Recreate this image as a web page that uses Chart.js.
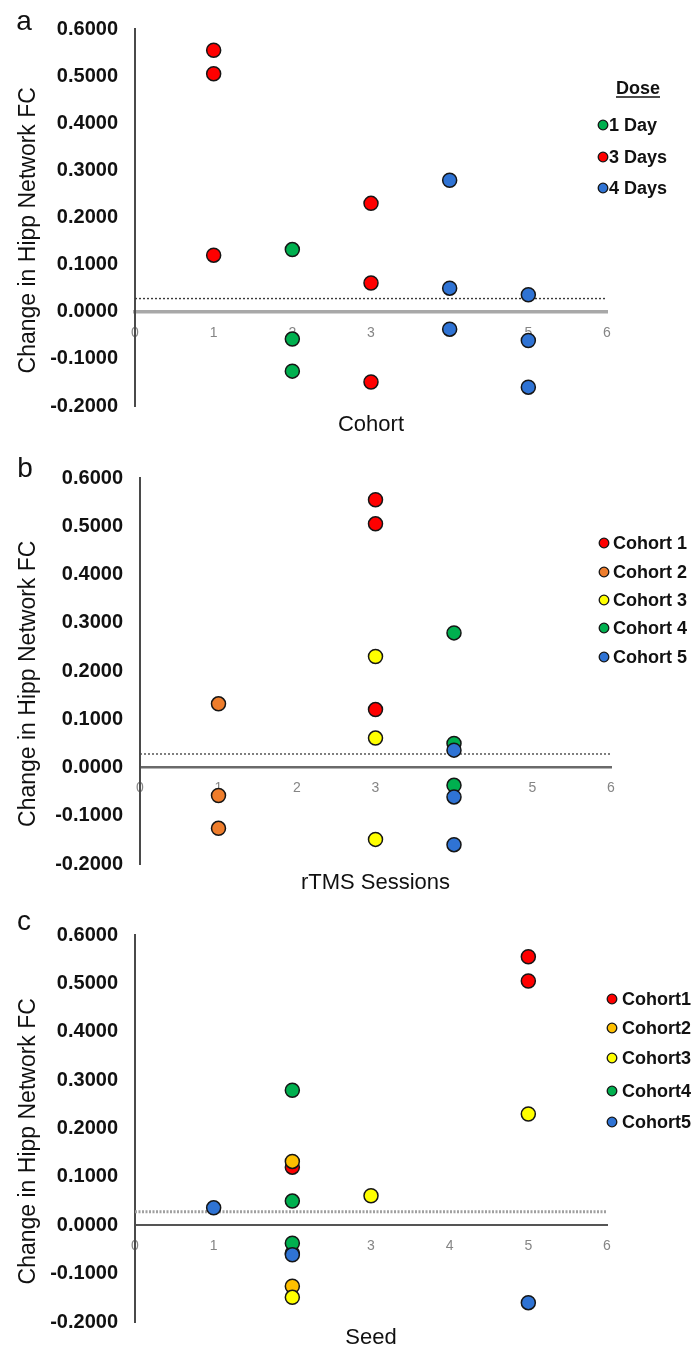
<!DOCTYPE html>
<html><head><meta charset="utf-8">
<script src="https://cdn.jsdelivr.net/npm/chart.js@4"></script>
<style>
html,body{margin:0;padding:0;background:#fff;width:696px;height:1353px;overflow:hidden;}
.p{position:absolute;left:0;width:696px;}
canvas{display:block;}
</style></head><body>
<div class="p" style="top:0px;height:440px"><canvas id="ca" width="696" height="440"></canvas></div>
<div class="p" style="top:440px;height:460px"><canvas id="cb" width="696" height="460"></canvas></div>
<div class="p" style="top:900px;height:453px"><canvas id="cc" width="696" height="453"></canvas></div>
<script>
// ---------------- data ----------------
const cohortNames = ['Cohort 1', 'Cohort 2', 'Cohort 3', 'Cohort 4', 'Cohort 5'];
const cohortNamesC = ['Cohort1', 'Cohort2', 'Cohort3', 'Cohort4', 'Cohort5'];
const cohort1 = [0.555, 0.505, 0.120];
const cohort2 = [0.132, -0.058, -0.126];
const cohort3 = [0.230, 0.061, -0.149];
const cohort4 = [0.279, 0.050, -0.037];
const cohort5 = [0.036, -0.061, -0.160];
const cohortValues = [cohort1, cohort2, cohort3, cohort4, cohort5];
const rtmsSessions = [3, 1, 3, 4, 4];            // sessions per cohort
const seed1 = [5, 5, 2];
const seed2 = [2, 2, 2];
const seed3 = [5, 3, 2];
const seed4 = [2, 2, 2];
const seed5 = [1, 2, 5];
const seeds = [seed1, seed2, seed3, seed4, seed5];
const doseLabels = ['1 Day', '3 Days', '4 Days'];
const doseCohorts = [[2], [1, 3], [4, 5]];
const threshold = 0.028;
const xTickValues = [0, 1, 2, 3, 4, 5, 6];
const yTickValues = [-0.2, -0.1, 0, 0.1, 0.2, 0.3, 0.4, 0.5, 0.6];
const yTitle = 'Change in Hipp Network FC';
const xTitles = ['Cohort', 'rTMS Sessions', 'Seed'];

// ---------------- style ----------------
const FONT = '"Liberation Sans", Arial, sans-serif';
const RED = '#ff0000', GREEN = '#00b04f', BLUE = '#2f73d4', ORANGE = '#ee7d2c', YELLOW = '#ffff00', GOLD = '#ffc000';
const cohortColorsB = [RED, ORANGE, YELLOW, GREEN, BLUE];
const cohortColorsC = [RED, GOLD, YELLOW, GREEN, BLUE];
const doseColors = [GREEN, RED, BLUE];

function pointDs(label, color, pts, order) {
  return {
    type: 'scatter', label, data: pts, xAxisID: 'x', yAxisID: 'y', order,
    backgroundColor: color, borderColor: '#151515', borderWidth: 1.5,
    pointRadius: 7, pointHoverRadius: 7
  };
}
function refDs(st) {
  return {
    type: 'line', isRef: true, label: 'ref', xAxisID: 'x', yAxisID: 'y', order: 100,
    data: [{x: xTickValues[0], y: threshold}, {x: xTickValues[xTickValues.length - 1], y: threshold}],
    borderColor: st.color, borderWidth: st.width, borderDash: st.dash, pointRadius: 0, fill: false
  };
}

const overlay = {
  id: 'overlay',
  afterDraw(chart, args, o) {
    const ctx = chart.ctx;
    ctx.save();
    ctx.fillStyle = '#111';
    ctx.font = '28px ' + FONT;
    ctx.textAlign = 'center'; ctx.textBaseline = 'middle';
    ctx.fillText(o.letter, o.letterX, o.letterY);
    const lg = o.legend;
    ctx.font = 'bold 18px ' + FONT;
    if (lg.title) {
      ctx.textAlign = 'center';
      ctx.fillText(lg.title, lg.titleX, lg.titleY);
      const w = ctx.measureText(lg.title).width;
      ctx.strokeStyle = '#111'; ctx.lineWidth = 1.3;
      ctx.beginPath(); ctx.moveTo(lg.titleX - w / 2, lg.titleY + 8); ctx.lineTo(lg.titleX + w / 2, lg.titleY + 8); ctx.stroke();
    }
    const items = chart.data.datasets.filter(d => !d.isRef);
    items.forEach((d, i) => {
      const y = lg.ys[i];
      ctx.beginPath(); ctx.arc(lg.x, y, 4.8, 0, Math.PI * 2);
      ctx.fillStyle = d.backgroundColor; ctx.fill();
      ctx.lineWidth = 1.3; ctx.strokeStyle = '#151515'; ctx.stroke();
      ctx.fillStyle = '#111'; ctx.textAlign = 'left'; ctx.textBaseline = 'middle';
      ctx.fillText(d.label, lg.textX, y + 1);
    });
    ctx.restore();
  }
};

function makeChart(id, c) {
  const H = c.H;
  const xh = c.titleY - c.chartBottom + 13.2;
  const padLeft = 4;
  const yw = c.chartLeft - padLeft;
  return new Chart(document.getElementById(id), {
    data: {datasets: c.datasets},
    options: {
      responsive: false, animation: false, devicePixelRatio: 1,
      layout: {padding: {top: c.chartTop, right: 696 - c.chartRight, left: padLeft, bottom: H - c.chartBottom - xh}},
      plugins: {legend: {display: false}, tooltip: {enabled: false}, overlay: c.overlay},
      scales: {
        x: {
          type: 'linear', position: {y: 0}, min: 0, max: 6,
          afterBuildTicks: s => { s.ticks = xTickValues.map(v => ({value: v})); },
          ticks: {color: '#858585', font: {family: FONT, size: 14}, padding: 12.6, callback: v => String(v)},
          grid: {display: false, drawTicks: false},
          border: {display: true, color: c.zero.color, width: c.zero.width}
        },
        x2: {
          type: 'linear', position: 'bottom', min: 0, max: 6,
          ticks: {display: false}, grid: {display: false, drawTicks: false}, border: {display: false},
          title: {display: true, text: c.xTitle, color: '#111', font: {family: FONT, size: 22}, padding: 0},
          afterFit: s => { s.height = xh; }
        },
        y: {
          type: 'linear', position: 'left', min: -0.2, max: 0.6,
          afterBuildTicks: s => { s.ticks = yTickValues.map(v => ({value: v})); },
          ticks: {color: '#111', font: {family: FONT, size: 20, weight: 'bold'}, padding: 17, callback: v => Number(v).toFixed(4)},
          grid: {display: false, drawTicks: false},
          border: {display: true, color: '#4a4a4a', width: 2},
          title: {display: true, text: yTitle + '    ', color: '#111', font: {family: FONT, size: 23}, padding: {top: 11, bottom: 0}},
          afterFit: s => { s.width = yw; }
        }
      }
    },
    plugins: [overlay]
  });
}

// Panel a: by cohort, coloured by dose
const dsA = doseLabels.map((lab, i) => {
  const pts = [];
  doseCohorts[i].forEach(k => cohortValues[k - 1].forEach(v => pts.push({x: k, y: v})));
  return pointDs(lab, doseColors[i], pts, 10 - i);
});
dsA.push(refDs({color: '#3a3a3a', width: 1.4, dash: [2, 2]}));
makeChart('ca', {
  H: 440, chartTop: 21, chartBottom: 406, chartLeft: 135, chartRight: 607, titleY: 425,
  xTitle: xTitles[0], datasets: dsA,
  zero: {color: '#a8a8a8', width: 3.5},
  overlay: {letter: 'a', letterX: 24, letterY: 22,
    legend: {title: 'Dose', titleX: 638, titleY: 89, x: 603, textX: 609, ys: [125, 157, 188]}}
});

// Panel b: by rTMS sessions, coloured by cohort
const dsB = cohortNames.map((lab, i) => pointDs(lab, cohortColorsB[i],
  cohortValues[i].map(v => ({x: rtmsSessions[i], y: v})), 10 - i));
dsB.push(refDs({color: '#4a4a4a', width: 1.4, dash: [2, 2]}));
makeChart('cb', {
  H: 460, chartTop: 38, chartBottom: 424, chartLeft: 140, chartRight: 611, titleY: 443,
  xTitle: xTitles[1], datasets: dsB,
  zero: {color: '#6a6a6a', width: 2.5},
  overlay: {letter: 'b', letterX: 25, letterY: 29,
    legend: {x: 604, textX: 613, ys: [103, 132, 160, 188, 217]}}
});

// Panel c: by seed, coloured by cohort
const dsC = cohortNamesC.map((lab, i) => pointDs(lab, cohortColorsC[i],
  cohortValues[i].map((v, j) => ({x: seeds[i][j], y: v})), 10 - i));
dsC.push(refDs({color: '#a0a0a0', width: 3, dash: [2, 1.5]}));
makeChart('cc', {
  H: 453, chartTop: 35, chartBottom: 422, chartLeft: 135, chartRight: 607, titleY: 438,
  xTitle: xTitles[2], datasets: dsC,
  zero: {color: '#555555', width: 2},
  overlay: {letter: 'c', letterX: 24, letterY: 22,
    legend: {x: 612, textX: 622, ys: [99, 128, 158, 191, 222]}}
});
</script>
</body></html>
